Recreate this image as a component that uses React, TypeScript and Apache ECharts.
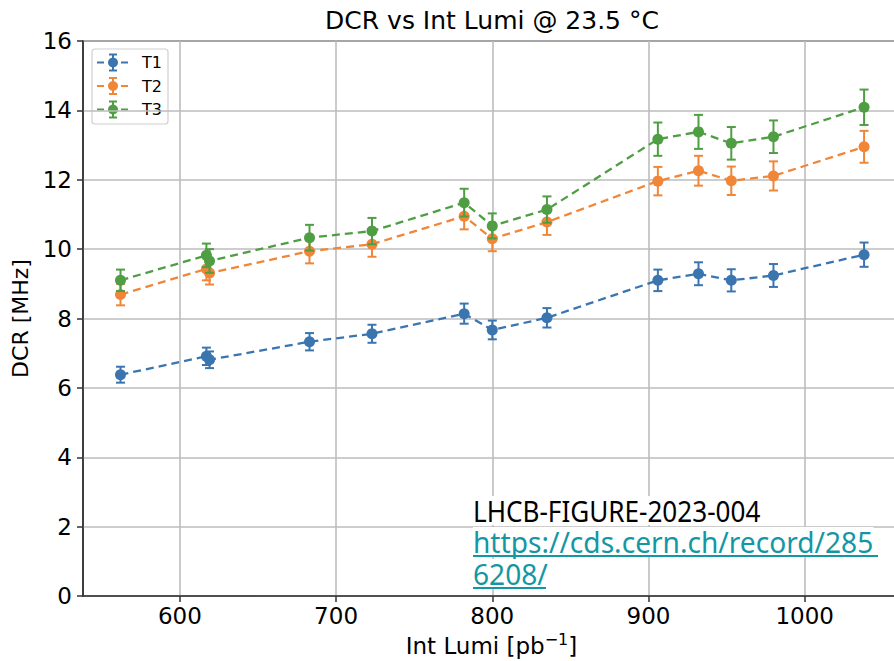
import React, { useEffect, useRef } from "react";
import * as echarts from "echarts";

const seriesNames = ["T1", "T2", "T3"];
const seriesColors = ["#3a75b0", "#f08638", "#4f9e43"];
const intLumi = [562, 617, 619, 683, 723, 782, 800, 835, 906, 932, 953, 980, 1038];
const dcrT1 = [6.38, 6.91, 6.81, 7.33, 7.56, 8.14, 7.67, 8.02, 9.1, 9.29, 9.1, 9.24, 9.84];
const dcrT2 = [8.69, 9.43, 9.31, 9.94, 10.14, 10.95, 10.3, 10.78, 11.96, 12.26, 11.97, 12.11, 12.95];
const dcrT3 = [9.1, 9.82, 9.66, 10.33, 10.52, 11.34, 10.67, 11.14, 13.17, 13.38, 13.05, 13.24, 14.09];
const errT1 = [0.23, 0.25, 0.24, 0.25, 0.26, 0.29, 0.27, 0.28, 0.31, 0.33, 0.32, 0.33, 0.35];
const errT2 = [0.31, 0.33, 0.33, 0.35, 0.36, 0.38, 0.36, 0.37, 0.41, 0.43, 0.41, 0.42, 0.46];
const errT3 = [0.31, 0.34, 0.34, 0.37, 0.38, 0.4, 0.36, 0.38, 0.48, 0.49, 0.47, 0.47, 0.51];
const xTicks = [600, 700, 800, 900, 1000];

const titleText = "DCR vs Int Lumi @ 23.5 °C";
const xNameMain = "Int Lumi [pb";
const xNameSup = "−1";
const xNameEnd = "]";
const yName = "DCR [MHz]";
const noteText = "LHCB-FIGURE-2023-004";
const linkLine1 = "https://cds.cern.ch/record/285";
const linkLine2 = "6208/";

export default function App() {
  const ref = useRef<HTMLDivElement>(null);
  useEffect(() => {
    if (!ref.current) return;
    const chart = echarts.init(ref.current, null, { renderer: "svg" });
    const FONT = "'DejaVu Sans', sans-serif";
    const values = [dcrT1, dcrT2, dcrT3];
    const errors = [errT1, errT2, errT3];
    const spine = "#333333";
    const gridC = "#bdbdbd";

    const series: any[] = [];
    seriesNames.forEach((name, i) => {
      const col = seriesColors[i];
      series.push({
        name: name + " err",
        type: "custom",
        z: 2 + i * 2,
        encode: { x: 0, y: [1, 2] },
        data: intLumi.map((x, j) => [x, values[i][j] - errors[i][j], values[i][j] + errors[i][j]]),
        renderItem: (params: any, api: any) => {
          const lo = api.coord([api.value(0), api.value(1)]);
          const hi = api.coord([api.value(0), api.value(2)]);
          const w = 4.5;
          const style = { stroke: col, lineWidth: 2 };
          return {
            type: "group",
            children: [
              { type: "line", shape: { x1: lo[0], y1: lo[1], x2: hi[0], y2: hi[1] }, style },
              { type: "line", shape: { x1: lo[0] - w, y1: lo[1], x2: lo[0] + w, y2: lo[1] }, style },
              { type: "line", shape: { x1: hi[0] - w, y1: hi[1], x2: hi[0] + w, y2: hi[1] }, style },
            ],
          };
        },
      });
      series.push({
        name,
        type: "line",
        z: 3 + i * 2,
        data: intLumi.map((x, j) => [x, values[i][j]]),
        symbol: "circle",
        symbolSize: 11,
        showSymbol: true,
        itemStyle: { color: col },
        lineStyle: { color: col, width: 2.3, type: [8, 5] },
      });
    });

    const legendChildren: any[] = [
      {
        type: "rect",
        shape: { x: 92, y: 49, width: 76, height: 75, r: 3 },
        style: { fill: "rgba(255,255,255,0.8)", stroke: "#d0d0d0", lineWidth: 1.2 },
      },
    ];
    seriesNames.forEach((name, i) => {
      const cy = 62.5 + i * 23.5;
      const col = seriesColors[i];
      legendChildren.push(
        { type: "line", shape: { x1: 97, y1: cy, x2: 130, y2: cy }, style: { stroke: col, lineWidth: 2.2, lineDash: [7, 5] } },
        { type: "line", shape: { x1: 113, y1: cy - 8, x2: 113, y2: cy + 8 }, style: { stroke: col, lineWidth: 2 } },
        { type: "line", shape: { x1: 109, y1: cy - 8, x2: 117, y2: cy - 8 }, style: { stroke: col, lineWidth: 2 } },
        { type: "line", shape: { x1: 109, y1: cy + 8, x2: 117, y2: cy + 8 }, style: { stroke: col, lineWidth: 2 } },
        { type: "circle", shape: { cx: 113, cy, r: 5 }, style: { fill: col } },
        { type: "text", x: 142, y: cy, style: { text: name, font: `16px ${FONT}`, fill: "#000", verticalAlign: "middle" } }
      );
    });

    const teal = "#1497a4";
    const annot: any[] = [
      {
        type: "text", x: 473, y: 496, scaleX: 0.9,
        style: { text: noteText, font: "29px 'Noto Sans'", fill: "#000", backgroundColor: "#fff", verticalAlign: "top" },
        z: 50,
      },
      {
        type: "text", x: 473, y: 527, scaleX: 0.97,
        style: { text: linkLine1, font: "29px 'Noto Sans'", fill: teal, backgroundColor: "#fff", verticalAlign: "top" },
        z: 50,
      },
      {
        type: "text", x: 473, y: 559, scaleX: 0.97,
        style: { text: linkLine2, font: "29px 'Noto Sans'", fill: teal, backgroundColor: "#fff", verticalAlign: "top" },
        z: 50,
      },
      { type: "line", shape: { x1: 473, y1: 556, x2: 878, y2: 556 }, style: { stroke: teal, lineWidth: 2 }, z: 51 },
      { type: "line", shape: { x1: 473, y1: 588, x2: 546, y2: 588 }, style: { stroke: teal, lineWidth: 2 }, z: 51 },
    ];

    chart.setOption({
      animation: false,
      backgroundColor: "#fff",
      grid: {
        left: 83, top: 41, right: -6, bottom: 65,
        outerBoundsMode: "none",
        containLabel: false,
        show: true, borderColor: spine, borderWidth: 1.5, backgroundColor: "transparent",
      },
      xAxis: {
        type: "value",
        min: 538,
        max: 1061,
        name: `{m|${xNameMain}}{s|${xNameSup}}{m|${xNameEnd}}`,
        nameLocation: "middle",
        nameGap: 34,
        nameTextStyle: {
          fontFamily: FONT, fontSize: 23, color: "#000",
          rich: {
            m: { fontFamily: FONT, fontSize: 23, color: "#000", lineHeight: 26, verticalAlign: "bottom" },
            s: { fontFamily: FONT, fontSize: 16, color: "#000", lineHeight: 12, verticalAlign: "top" },
          },
        },
        axisLine: { show: true, lineStyle: { color: spine, width: 1.5 } },
        axisTick: { show: true, customValues: xTicks, length: 6, lineStyle: { color: spine, width: 1.5 } },
        axisLabel: {
          customValues: xTicks, fontFamily: FONT, fontSize: 23, color: "#000", margin: 8,
          formatter: (v: number) => String(v),
        },
        splitLine: { show: true, lineStyle: { color: gridC, width: 1.6 } },
      },
      yAxis: {
        type: "value",
        min: 0,
        max: 16,
        interval: 2,
        name: yName,
        nameLocation: "middle",
        nameGap: 49,
        nameTextStyle: { fontFamily: FONT, fontSize: 22, color: "#000" },
        axisLine: { show: true, lineStyle: { color: spine, width: 1.5 } },
        axisTick: { show: true, length: 6, lineStyle: { color: spine, width: 1.5 } },
        axisLabel: { fontFamily: FONT, fontSize: 23, color: "#000", margin: 11 },
        splitLine: { show: true, lineStyle: { color: gridC, width: 1.6 } },
      },
      graphic: [
        {
          type: "text", x: 492, y: 20,
          style: { text: titleText, font: `25px ${FONT}`, fill: "#000", align: "center", verticalAlign: "middle" },
        },
        { type: "group", children: legendChildren, z: 40 },
        ...annot,
      ],
      series,
    });
    return () => chart.dispose();
  }, []);
  return (
    <div
      ref={ref}
      style={{ position: "fixed", left: 0, top: 0, width: 894, height: 661, background: "#fff" }}
    />
  );
}
